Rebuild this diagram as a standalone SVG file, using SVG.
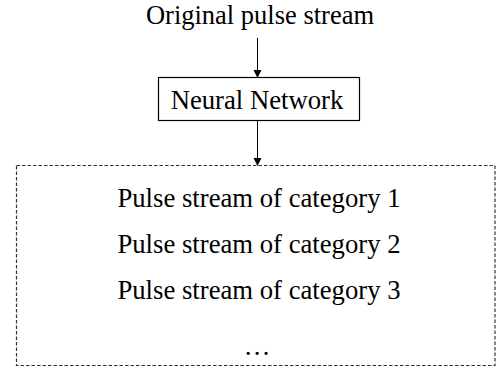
<svg xmlns="http://www.w3.org/2000/svg" width="496" height="374" viewBox="0 0 496 374">
<style>
text{font-family:"Liberation Serif","Times New Roman",serif;font-size:26.7px;fill:#000;text-anchor:middle}
.box{fill:#fff;stroke:#000;stroke-width:1.2}
.dash{fill:#fff;stroke:#333;stroke-width:1.2;stroke-dasharray:3.5 2}
.edge{stroke:#000;stroke-width:1;fill:none}
</style>
<defs>
<marker id="ah" markerWidth="8" markerHeight="9" refX="7" refY="4" orient="auto" markerUnits="userSpaceOnUse" viewBox="0 0 8 8">
<path d="M0,0 L8,4 L0,8 z" fill="#000"/>
</marker>
</defs>
<g id="input"><text x="260" y="24" style="font-size:26.5px">Original pulse stream</text></g>
<g id="nn">
<rect class="box" x="158.5" y="77.5" width="201" height="43"/>
<text x="257" y="109">Neural Network</text>
</g>
<g id="outputs">
<rect class="dash" x="16.5" y="165.5" width="478.5" height="200"/>
<text x="259" y="206.5">Pulse stream of category 1</text>
<text x="259" y="252.5">Pulse stream of category 2</text>
<text x="259" y="298.5">Pulse stream of category 3</text>
<text x="257" y="355">…</text>
</g>
<g id="connectors">
<line class="edge" x1="257.5" y1="38" x2="257.5" y2="77" marker-end="url(#ah)"/>
<line class="edge" x1="257.5" y1="121" x2="257.5" y2="165" marker-end="url(#ah)"/>
</g>
</svg>
